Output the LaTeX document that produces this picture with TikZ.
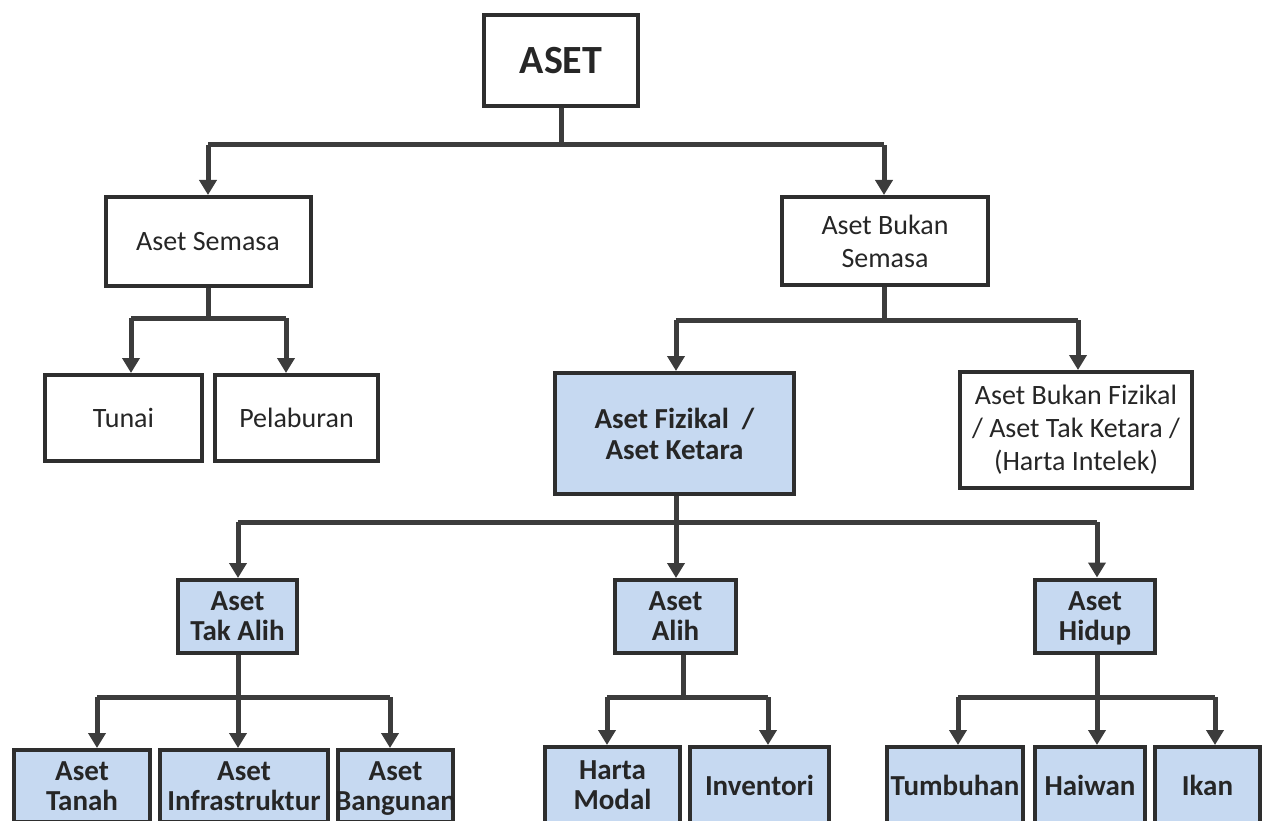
\documentclass[tikz,border=0pt]{standalone}
\usepackage{fontspec}
\setmainfont{Carlito}
\usetikzlibrary{arrows.meta,calc}
\definecolor{boxc}{HTML}{2E2E2E}
\definecolor{linec}{HTML}{3C3C3C}
\definecolor{lblue}{HTML}{C6D9F1}
\definecolor{txt}{HTML}{262626}
\tikzset{
  box/.style={draw=boxc, line width=4pt, fill=white, align=center, inner sep=2pt,
    text=txt, font=\fontsize{28}{33}\selectfont},
  bbox/.style={box, fill=lblue, font=\bfseries\fontsize{29}{30}\selectfont},
  conn/.style={draw=linec, line width=5pt, line join=miter},
  arr/.style={conn, -{Triangle[width=17pt,length=15pt]}}
}
\begin{document}
\begin{tikzpicture}[x=1pt,y=-1pt]
\useasboundingbox (0,0) rectangle (1263,821);
\clip (0,0) rectangle (1263,821);
% level 0
\node[box, font=\bfseries\fontsize{40}{44}\selectfont, minimum width=154pt, minimum height=91pt] (aset) at (561,60.5) {ASET};
% level 1
\node[box, minimum width=205pt, minimum height=89pt] (semasa) at (208,241.5) {Aset Semasa};
\node[box, minimum width=206pt, minimum height=88pt] (bsemasa) at (885,241) {Aset Bukan\\Semasa};
% level 2 left
\node[box, minimum width=157pt, minimum height=86pt] (tunai) at (123.5,418) {Tunai};
\node[box, minimum width=163pt, minimum height=86pt] (pelab) at (296.5,418) {Pelaburan};
% level 2 right
\node[bbox, font=\bfseries\fontsize{29}{31}\selectfont, minimum width=239pt, minimum height=121pt] (fiz) at (674.5,433.5) {Aset Fizikal\ \ /\\Aset Ketara};
\node[box, minimum width=232pt, minimum height=116pt] (bfiz) at (1076,430) {Aset Bukan Fizikal\\/ Aset Tak Ketara /\\(Harta Intelek)};
% level 3
\node[bbox, minimum width=119pt, minimum height=73pt] (takalih) at (237.5,616.5) {Aset\\Tak Alih};
\node[bbox, minimum width=121pt, minimum height=73pt] (alih) at (675.5,616.5) {Aset\\Alih};
\node[bbox, minimum width=120pt, minimum height=73pt] (hidup) at (1095,616) {Aset\\\smash{Hidup}};
% level 4
\node[bbox, minimum width=136pt, minimum height=72pt] (tanah) at (82,786) {Aset\\Tanah};
\node[bbox, minimum width=168pt, minimum height=72pt] (infra) at (244,786) {Aset\\\makebox[0pt][c]{Infrastruktur}};
\node[bbox, minimum width=115pt, minimum height=72pt] (bangunan) at (395.5,786) {Aset\\\makebox[0pt][c]{\smash{Bangunan}}};
\node[bbox, minimum width=135pt, minimum height=76pt] (harta) at (612.5,785) {Harta\\Modal};
\node[bbox, minimum width=139pt, minimum height=76pt] (invent) at (759.5,785) {Inventori};
\node[bbox, minimum width=136pt, minimum height=76pt] (tumbuh) at (955,785) {\makebox[0pt][c]{Tumbuhan}};
\node[bbox, minimum width=110pt, minimum height=76pt] (haiwan) at (1090,785) {Haiwan};
\node[bbox, minimum width=105pt, minimum height=76pt] (ikan) at (1207.5,785) {Ikan};
% branch coordinates
\coordinate (b0) at (561,145);
\coordinate (b0l) at (208,145);
\coordinate (b0r) at (884,145);
\coordinate (b1) at (208,318);
\coordinate (b1l) at (131,318);
\coordinate (b1r) at (286,318);
\coordinate (b2) at (884,320);
\coordinate (b2l) at (676,320);
\coordinate (b2r) at (1078,320);
\coordinate (b3) at (676,522);
\coordinate (b3l) at (238,522);
\coordinate (b3r) at (1097,522);
\coordinate (b4) at (238,697);
\coordinate (b4l) at (97,697);
\coordinate (b4r) at (390,697);
\coordinate (b5) at (683,697);
\coordinate (b5l) at (607,697);
\coordinate (b5r) at (768,697);
\coordinate (b6) at (1097,697);
\coordinate (b6l) at (958,697);
\coordinate (b6r) at (1215,697);
% connectors
\draw[conn] (b0 |- aset.south) -- (b0);
\draw[conn] (b0l) -- (b0r);
\draw[arr] (b0l) -- (b0l |- semasa.north);
\draw[arr] (b0r) -- (b0r |- bsemasa.north);
\draw[conn] (b1 |- semasa.south) -- (b1);
\draw[conn] (b1l) -- (b1r);
\draw[arr] (b1l) -- (b1l |- tunai.north);
\draw[arr] (b1r) -- (b1r |- pelab.north);
\draw[conn] (b2 |- bsemasa.south) -- (b2);
\draw[conn] (b2l) -- (b2r);
\draw[arr] (b2l) -- (b2l |- fiz.north);
\draw[arr] (b2r) -- (b2r |- bfiz.north);
\draw[conn] (b3 |- fiz.south) -- (b3);
\draw[conn] (b3l) -- (b3r);
\draw[arr] (b3l) -- (b3l |- takalih.north);
\draw[arr] (b3) -- (b3 |- alih.north);
\draw[arr] (b3r) -- (b3r |- hidup.north);
\draw[conn] (b4 |- takalih.south) -- (b4);
\draw[conn] (b4l) -- (b4r);
\draw[arr] (b4l) -- (b4l |- tanah.north);
\draw[arr] (b4) -- (b4 |- infra.north);
\draw[arr] (b4r) -- (b4r |- bangunan.north);
\draw[conn] (b5 |- alih.south) -- (b5);
\draw[conn] (b5l) -- (b5r);
\draw[arr] (b5l) -- (b5l |- harta.north);
\draw[arr] (b5r) -- (b5r |- invent.north);
\draw[conn] (b6 |- hidup.south) -- (b6);
\draw[conn] (b6l) -- (b6r);
\draw[arr] (b6l) -- (b6l |- tumbuh.north);
\draw[arr] (b6) -- (b6 |- haiwan.north);
\draw[arr] (b6r) -- (b6r |- ikan.north);
\end{tikzpicture}
\end{document}
